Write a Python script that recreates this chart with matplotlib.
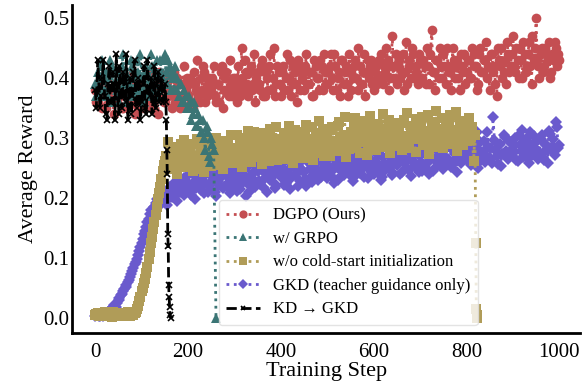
import numpy as np
import matplotlib
matplotlib.use("Agg")
import matplotlib.pyplot as plt

plt.rcParams['font.family'] = ['Liberation Serif', 'DejaVu Serif']

# ---- data ----
# every series is sampled twice per 5 steps: at steps 0,5,10,... ("a")
# and at steps 2,7,12,... ("b")

dgpo_a = [  # steps 0..1000
    0.38, 0.36, 0.39, 0.35, 0.37, 0.40, 0.36, 0.38, 0.34, 0.39,
    0.37, 0.41, 0.35, 0.38, 0.36, 0.39, 0.37, 0.34, 0.40, 0.36,
    0.38, 0.35, 0.39, 0.37, 0.41, 0.36, 0.38, 0.34, 0.37, 0.39,
    0.36, 0.40, 0.38, 0.35, 0.41, 0.37, 0.39, 0.36, 0.42, 0.38,
    0.37, 0.40, 0.35, 0.39, 0.43, 0.36, 0.38, 0.41, 0.37, 0.40,
    0.38, 0.42, 0.36, 0.39, 0.41, 0.35, 0.40, 0.38, 0.43, 0.37,
    0.40, 0.36, 0.39, 0.45, 0.38, 0.41, 0.37, 0.42, 0.39, 0.36,
    0.41, 0.38, 0.43, 0.37, 0.40, 0.42, 0.38, 0.45, 0.39, 0.41,
    0.37, 0.42, 0.40, 0.38, 0.43, 0.39, 0.41, 0.36, 0.42, 0.40,
    0.38, 0.44, 0.39, 0.41, 0.37, 0.42, 0.40, 0.43, 0.38, 0.41,
    0.39, 0.42, 0.40, 0.44, 0.38, 0.41, 0.43, 0.39, 0.42, 0.37,
    0.41, 0.40, 0.43, 0.38, 0.42, 0.39, 0.44, 0.41, 0.40, 0.43,
    0.38, 0.42, 0.40, 0.44, 0.39, 0.41, 0.43, 0.40, 0.47, 0.42,
    0.39, 0.43, 0.41, 0.38, 0.46, 0.42, 0.40, 0.44, 0.41, 0.39,
    0.43, 0.40, 0.42, 0.45, 0.39, 0.48, 0.41, 0.43, 0.40, 0.42,
    0.44, 0.39, 0.42, 0.41, 0.45, 0.40, 0.43, 0.38, 0.42, 0.44,
    0.41, 0.43, 0.40, 0.44, 0.42, 0.39, 0.45, 0.41, 0.43, 0.40,
    0.38, 0.44, 0.42, 0.37, 0.43, 0.45, 0.41, 0.39, 0.44, 0.42,
    0.47, 0.41, 0.43, 0.45, 0.40, 0.44, 0.42, 0.46, 0.39, 0.43,
    0.50, 0.42, 0.44, 0.41, 0.45, 0.43, 0.40, 0.44, 0.46, 0.42,
    0.43,
]
dgpo_b = [  # steps 2..997
    0.36, 0.39, 0.37, 0.40, 0.35, 0.38, 0.41, 0.37, 0.39, 0.36,
    0.39, 0.35, 0.40, 0.37, 0.38, 0.36, 0.41, 0.38, 0.35, 0.39,
    0.37, 0.40, 0.36, 0.38, 0.35, 0.39, 0.37, 0.41, 0.38, 0.36,
    0.39, 0.37, 0.41, 0.38, 0.36, 0.40, 0.35, 0.39, 0.37, 0.40,
    0.39, 0.36, 0.41, 0.38, 0.37, 0.40, 0.42, 0.36, 0.39, 0.38,
    0.40, 0.37, 0.39, 0.36, 0.42, 0.38, 0.41, 0.37, 0.39, 0.40,
    0.38, 0.42, 0.37, 0.40, 0.43, 0.39, 0.41, 0.38, 0.44, 0.40,
    0.39, 0.42, 0.37, 0.41, 0.38, 0.44, 0.40, 0.37, 0.42, 0.39,
    0.41, 0.38, 0.44, 0.40, 0.37, 0.42, 0.39, 0.43, 0.38, 0.41,
    0.42, 0.39, 0.41, 0.37, 0.43, 0.40, 0.38, 0.42, 0.44, 0.39,
    0.41, 0.44, 0.38, 0.42, 0.40, 0.37, 0.43, 0.41, 0.39, 0.44,
    0.38, 0.42, 0.40, 0.45, 0.39, 0.41, 0.37, 0.43, 0.42, 0.39,
    0.41, 0.39, 0.43, 0.40, 0.42, 0.45, 0.38, 0.42, 0.40, 0.44,
    0.42, 0.40, 0.44, 0.41, 0.39, 0.43, 0.45, 0.40, 0.42, 0.44,
    0.40, 0.43, 0.39, 0.42, 0.44, 0.41, 0.38, 0.43, 0.45, 0.40,
    0.42, 0.45, 0.41, 0.38, 0.43, 0.42, 0.40, 0.44, 0.41, 0.39,
    0.43, 0.40, 0.45, 0.42, 0.38, 0.44, 0.41, 0.43, 0.46, 0.42,
    0.44, 0.41, 0.39, 0.45, 0.42, 0.40, 0.43, 0.46, 0.41, 0.44,
    0.42, 0.45, 0.40, 0.43, 0.46, 0.41, 0.44, 0.42, 0.47, 0.45,
    0.43, 0.40, 0.45, 0.42, 0.44, 0.46, 0.41, 0.43, 0.45, 0.44,
]

grpo_a = [  # steps 0..255, then collapse at 260
    0.39, 0.41, 0.37, 0.43, 0.38, 0.40, 0.36, 0.42, 0.39, 0.37,
    0.41, 0.38, 0.44, 0.36, 0.40, 0.39, 0.42, 0.37, 0.43, 0.38,
    0.40, 0.36, 0.42, 0.39, 0.44, 0.38, 0.41, 0.37, 0.43, 0.40,
    0.44, 0.39, 0.42, 0.41, 0.38, 0.40, 0.37, 0.39, 0.36, 0.37,
    0.35, 0.36, 0.34, 0.35, 0.32, 0.33, 0.31, 0.30, 0.32, 0.27,
    0.30, 0.28,
]
grpo_b = [  # steps 2..252
    0.37, 0.40, 0.42, 0.38, 0.41, 0.37, 0.43, 0.39, 0.41, 0.38,
    0.36, 0.42, 0.39, 0.41, 0.37, 0.43, 0.40, 0.38, 0.41, 0.44,
    0.38, 0.41, 0.37, 0.40, 0.42, 0.39, 0.43, 0.38, 0.41, 0.43,
    0.41, 0.43, 0.38, 0.40, 0.42, 0.38, 0.39, 0.36, 0.38, 0.35,
    0.37, 0.33, 0.36, 0.32, 0.34, 0.31, 0.33, 0.28, 0.31, 0.26,
    0.29,
]
grpo_end_steps = [260]
grpo_end = [0.0]

cold_a = [  # steps 0..815
    0.005, 0.008, 0.003, 0.006, 0.010, 0.004, 0.007, 0.002, 0.009, 0.005,
    0.006, 0.003, 0.008, 0.005, 0.010, 0.004, 0.007, 0.009, 0.015, 0.028,
    0.045, 0.058, 0.075, 0.098, 0.125, 0.148, 0.172, 0.198, 0.218, 0.245,
    0.262, 0.248, 0.285, 0.255, 0.272, 0.241, 0.268, 0.290, 0.252, 0.275,
    0.261, 0.283, 0.246, 0.270, 0.298, 0.257, 0.279, 0.243, 0.266, 0.288,
    0.254, 0.276, 0.301, 0.262, 0.284, 0.249, 0.271, 0.293, 0.258, 0.280,
    0.266, 0.305, 0.275, 0.252, 0.289, 0.270, 0.312, 0.261, 0.283, 0.296,
    0.268, 0.291, 0.257, 0.304, 0.279, 0.262, 0.298, 0.285, 0.318, 0.271,
    0.293, 0.265, 0.308, 0.281, 0.296, 0.259, 0.313, 0.287, 0.274, 0.301,
    0.284, 0.322, 0.278, 0.296, 0.263, 0.309, 0.290, 0.275, 0.315, 0.288,
    0.302, 0.270, 0.318, 0.292, 0.284, 0.327, 0.279, 0.306, 0.268, 0.297,
    0.311, 0.286, 0.333, 0.294, 0.276, 0.316, 0.301, 0.272, 0.323, 0.290,
    0.307, 0.281, 0.319, 0.296, 0.340, 0.288, 0.312, 0.275, 0.303, 0.326,
    0.292, 0.315, 0.280, 0.331, 0.300, 0.284, 0.321, 0.306, 0.277, 0.318,
    0.298, 0.336, 0.289, 0.312, 0.274, 0.325, 0.303, 0.346, 0.293, 0.316,
    0.283, 0.322, 0.305, 0.339, 0.290, 0.314, 0.279, 0.328, 0.300, 0.318,
    0.295, 0.334, 0.310, 0.262,
]
cold_b = [  # steps 2..812
    0.007, 0.004, 0.009, 0.003, 0.006, 0.008, 0.005, 0.010, 0.004, 0.007,
    0.005, 0.009, 0.004, 0.007, 0.003, 0.008, 0.006, 0.011, 0.020, 0.036,
    0.051, 0.066, 0.086, 0.110, 0.136, 0.160, 0.185, 0.208, 0.232, 0.256,
    0.270, 0.293, 0.258, 0.279, 0.250, 0.286, 0.262, 0.274, 0.297, 0.260,
    0.276, 0.255, 0.291, 0.266, 0.248, 0.284, 0.271, 0.300, 0.259, 0.278,
    0.289, 0.263, 0.281, 0.256, 0.296, 0.274, 0.287, 0.262, 0.305, 0.273,
    0.284, 0.259, 0.298, 0.277, 0.264, 0.301, 0.286, 0.272, 0.310, 0.281,
    0.294, 0.276, 0.308, 0.269, 0.289, 0.316, 0.281, 0.299, 0.264, 0.292,
    0.279, 0.305, 0.288, 0.321, 0.270, 0.297, 0.284, 0.311, 0.292, 0.267,
    0.306, 0.289, 0.276, 0.318, 0.299, 0.283, 0.329, 0.294, 0.271, 0.310,
    0.287, 0.313, 0.296, 0.278, 0.321, 0.300, 0.289, 0.335, 0.305, 0.282,
    0.299, 0.318, 0.283, 0.307, 0.328, 0.295, 0.312, 0.286, 0.337, 0.301,
    0.293, 0.324, 0.306, 0.285, 0.315, 0.298, 0.330, 0.290, 0.319, 0.304,
    0.311, 0.287, 0.326, 0.303, 0.342, 0.295, 0.317, 0.299, 0.332, 0.308,
    0.320, 0.294, 0.309, 0.338, 0.301, 0.286, 0.327, 0.312, 0.297, 0.333,
    0.307, 0.291, 0.329, 0.311, 0.296, 0.344, 0.305, 0.322, 0.288, 0.313,
    0.326, 0.300, 0.318,
]
cold_end_steps = [818, 820, 821, 822, 823]
cold_end = [0.305, 0.125, 0.015, 0.006, 0.0]

gkd_a = [  # steps 0..1000
    0.004, 0.007, 0.003, 0.006, 0.009, 0.005, 0.012, 0.015, 0.022, 0.018,
    0.030, 0.038, 0.045, 0.052, 0.060, 0.068, 0.078, 0.090, 0.098, 0.112,
    0.125, 0.140, 0.152, 0.166, 0.180, 0.172, 0.192, 0.185, 0.205, 0.196,
    0.210, 0.188, 0.218, 0.202, 0.225, 0.196, 0.214, 0.232, 0.205, 0.221,
    0.238, 0.212, 0.226, 0.199, 0.243, 0.219, 0.231, 0.208, 0.247, 0.222,
    0.215, 0.236, 0.204, 0.228, 0.250, 0.217, 0.241, 0.226, 0.209, 0.244,
    0.232, 0.212, 0.248, 0.225, 0.238, 0.203, 0.253, 0.229, 0.242, 0.218,
    0.246, 0.223, 0.257, 0.234, 0.211, 0.249, 0.236, 0.260, 0.222, 0.243,
    0.235, 0.258, 0.226, 0.247, 0.215, 0.262, 0.239, 0.252, 0.228, 0.266,
    0.244, 0.221, 0.259, 0.236, 0.270, 0.248, 0.230, 0.263, 0.241, 0.255,
    0.233, 0.268, 0.246, 0.225, 0.261, 0.250, 0.275, 0.238, 0.257, 0.244,
    0.264, 0.229, 0.253, 0.279, 0.242, 0.260, 0.236, 0.271, 0.249, 0.258,
    0.240, 0.276, 0.254, 0.231, 0.268, 0.247, 0.282, 0.259, 0.239, 0.273,
    0.256, 0.285, 0.243, 0.266, 0.250, 0.278, 0.237, 0.262, 0.289, 0.254,
    0.270, 0.246, 0.281, 0.259, 0.241, 0.292, 0.265, 0.252, 0.277, 0.260,
    0.248, 0.283, 0.266, 0.295, 0.257, 0.274, 0.244, 0.288, 0.263, 0.279,
    0.268, 0.302, 0.255, 0.285, 0.272, 0.250, 0.294, 0.276, 0.261, 0.310,
    0.283, 0.258, 0.297, 0.271, 0.289, 0.254, 0.306, 0.279, 0.265, 0.292,
    0.276, 0.300, 0.262, 0.288, 0.313, 0.270, 0.295, 0.258, 0.284, 0.303,
    0.281, 0.266, 0.298, 0.275, 0.290, 0.259, 0.307, 0.286, 0.272, 0.318,
    0.288,
]
gkd_b = [  # steps 2..997
    0.006, 0.003, 0.008, 0.004, 0.007, 0.010, 0.008, 0.018, 0.016, 0.026,
    0.034, 0.041, 0.048, 0.056, 0.064, 0.073, 0.084, 0.094, 0.105, 0.118,
    0.132, 0.146, 0.160, 0.174, 0.168, 0.186, 0.198, 0.192, 0.210, 0.201,
    0.195, 0.213, 0.207, 0.220, 0.203, 0.228, 0.210, 0.219, 0.234, 0.212,
    0.224, 0.205, 0.239, 0.217, 0.230, 0.214, 0.236, 0.225, 0.211, 0.240,
    0.229, 0.210, 0.245, 0.222, 0.237, 0.218, 0.249, 0.233, 0.214, 0.238,
    0.221, 0.244, 0.216, 0.235, 0.251, 0.226, 0.210, 0.240, 0.231, 0.254,
    0.229, 0.248, 0.219, 0.241, 0.262, 0.230, 0.245, 0.217, 0.252, 0.238,
    0.250, 0.222, 0.244, 0.268, 0.233, 0.255, 0.241, 0.220, 0.260, 0.246,
    0.232, 0.264, 0.249, 0.227, 0.256, 0.243, 0.272, 0.236, 0.251, 0.262,
    0.248, 0.237, 0.270, 0.255, 0.231, 0.266, 0.243, 0.259, 0.278, 0.240,
    0.251, 0.272, 0.238, 0.262, 0.247, 0.284, 0.255, 0.233, 0.266, 0.249,
    0.262, 0.245, 0.274, 0.236, 0.259, 0.288, 0.251, 0.267, 0.242, 0.280,
    0.264, 0.241, 0.273, 0.258, 0.292, 0.247, 0.269, 0.253, 0.276, 0.244,
    0.258, 0.287, 0.250, 0.272, 0.263, 0.245, 0.298, 0.268, 0.256, 0.284,
    0.271, 0.259, 0.290, 0.252, 0.279, 0.266, 0.300, 0.258, 0.274, 0.287,
    0.277, 0.258, 0.291, 0.266, 0.310, 0.281, 0.263, 0.296, 0.271, 0.286,
    0.265, 0.335, 0.280, 0.257, 0.291, 0.274, 0.302, 0.268, 0.295, 0.281,
    0.290, 0.264, 0.306, 0.279, 0.268, 0.298, 0.284, 0.311, 0.272, 0.293,
    0.296, 0.277, 0.305, 0.264, 0.289, 0.312, 0.280, 0.299, 0.327, 0.284,
]

kd_a = [  # steps 0..150
    0.38, 0.43, 0.35, 0.40, 0.37, 0.33, 0.42, 0.36, 0.39, 0.44,
    0.34, 0.38, 0.41, 0.36, 0.33, 0.40, 0.37, 0.43, 0.35, 0.39,
    0.36, 0.42, 0.34, 0.38, 0.40, 0.37, 0.35, 0.41, 0.38, 0.36,
    0.39,
]
kd_b = [  # steps 2..147
    0.35, 0.40, 0.37, 0.43, 0.34, 0.39, 0.36, 0.41, 0.33, 0.38,
    0.42, 0.35, 0.37, 0.44, 0.38, 0.34, 0.41, 0.36, 0.40, 0.33,
    0.39, 0.35, 0.43, 0.37, 0.34, 0.42, 0.39, 0.36, 0.40, 0.37,
]
kd_end_steps = list(range(152, 163))
kd_end = [0.36, 0.33, 0.28, 0.24, 0.14, 0.12, 0.055, 0.035, 0.018, 0.005, 0.0]

labels = ['DGPO (Ours)', 'w/ GRPO', 'w/o cold-start initialization',
          'GKD (teacher guidance only)', 'KD \u2192 GKD']
colors = ['#C44E52', '#3B7575', '#B09C58', '#6A5ACD', 'black']


def merge(a, b, extra_steps=(), extra=()):
    steps = list(range(0, 5 * len(a), 5)) + list(range(2, 5 * len(b), 5)) + list(extra_steps)
    vals = list(a) + list(b) + list(extra)
    order = np.argsort(steps, kind='stable')
    return np.array(steps)[order], np.array(vals)[order]


fig = plt.figure(figsize=(5.82, 3.83), dpi=100)
ax = fig.add_axes([0.124, 0.130, 0.873, 0.857])

x, y = merge(dgpo_a, dgpo_b)
ax.plot(x, y, ls=':', lw=2, marker='o', ms=7, mew=0,
        color=colors[0], label=labels[0], zorder=3)
x, y = merge(grpo_a, grpo_b, grpo_end_steps, grpo_end)
ax.plot(x, y, ls=':', lw=2, marker='^', ms=7, mew=0,
        color=colors[1], label=labels[1], zorder=4)
x, y = merge(cold_a, cold_b, cold_end_steps, cold_end)
ax.plot(x, y, ls=':', lw=2, marker='s', ms=6.5, mew=0,
        color=colors[2], label=labels[2], zorder=2)
x, y = merge(gkd_a, gkd_b)
ax.plot(x, y, ls=':', lw=2, marker='D', ms=6, mew=0,
        color=colors[3], label=labels[3], zorder=1)
x, y = merge(kd_a, kd_b, kd_end_steps, kd_end)
ax.plot(x, y, ls='--', lw=2, marker='x', ms=4, mew=1.2,
        color=colors[4], label=labels[4], zorder=5)

ax.set_xlim(-50, 1045)
ax.set_ylim(-0.025, 0.522)
ax.set_xticks([0, 200, 400, 600, 800, 1000])
ax.set_yticks([0.0, 0.1, 0.2, 0.3, 0.4, 0.5])
ax.set_yticklabels(['0.0', '0.1', '0.2', '0.3', '0.4', '0.5'])
ax.tick_params(length=0, labelsize=15)
ax.tick_params(axis='x', pad=7)
ax.tick_params(axis='y', pad=2)
for s in ['top', 'right']:
    ax.spines[s].set_visible(False)
for s in ['left', 'bottom']:
    ax.spines[s].set_linewidth(2)
    ax.spines[s].set_color('black')

ax.set_xlabel('Training Step', fontsize=16, labelpad=0)
ax.set_ylabel('Average Reward', fontsize=16)

leg = ax.legend(loc='lower left', bbox_to_anchor=(0.272, 0.0), fontsize=12,
                frameon=True, fancybox=True, framealpha=0.8,
                edgecolor='#dddddd', handlelength=2.0, borderpad=0.45,
                labelspacing=0.45, markerscale=0.85)
leg.set_zorder(6)

fig.savefig('out.png', dpi=100)
